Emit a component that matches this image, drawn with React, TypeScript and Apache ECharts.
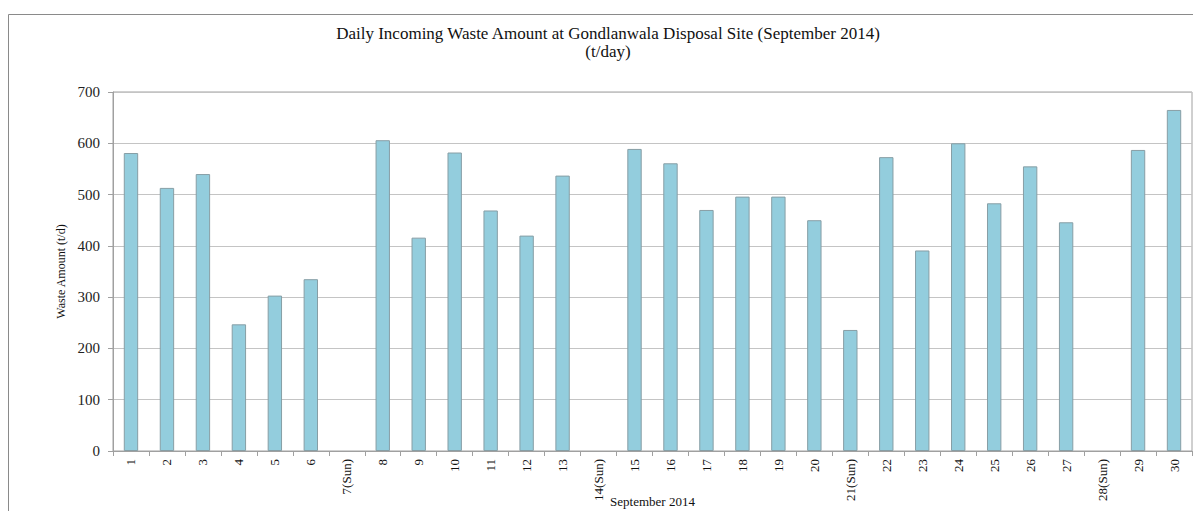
import React, { useEffect, useRef } from "react";
import * as echarts from "echarts";

const categories = [
  "1", "2", "3", "4", "5", "6", "7(Sun)", "8", "9", "10",
  "11", "12", "13", "14(Sun)", "15", "16", "17", "18", "19", "20",
  "21(Sun)", "22", "23", "24", "25", "26", "27", "28(Sun)", "29", "30",
];
// Sundays have no recorded value
const wasteAmount = [
  581, 513, 540, 247, 303, 335, null, 606, 416, 582,
  469, 420, 537, null, 589, 561, 470, 496, 496, 450,
  236, 573, 391, 600, 483, 555, 446, null, 587, 665,
];
const titleLines = ["Daily Incoming Waste Amount at Gondlanwala Disposal Site (September 2014)", "(t/day)"];
const xAxisName = "September 2014";
const yAxisName = "Waste Amount (t/d)";

const FONT = "'Liberation Serif', 'DejaVu Serif', serif";

export default function App() {
  const ref = useRef<HTMLDivElement>(null);
  useEffect(() => {
    if (!ref.current) return;
    const chart = echarts.init(ref.current, undefined, { renderer: "svg" });
    chart.setOption({
      animation: false,
      backgroundColor: "#ffffff",
      graphic: [
        {
          type: "rect",
          x: 8.5,
          y: 14.5,
          shape: { width: 1200, height: 520 },
          style: { fill: "none", stroke: "#8a8a8a", lineWidth: 1 },
          z: 0,
        },
        {
          type: "text",
          x: 608,
          y: 24,
          style: {
            text: titleLines.join("\n"),
            font: `17px ${FONT}`,
            fill: "#111",
            textAlign: "center",
            lineHeight: 18,
          },
        },
      ],
      grid: {
        left: 113,
        top: 92,
        right: 1,
        bottom: 60,
        containLabel: false,
        outerBoundsMode: "none",
        show: true,
        borderColor: "#a0a0a0",
        borderWidth: 1,
      },
      xAxis: {
        type: "category",
        data: categories,
        name: xAxisName,
        nameLocation: "middle",
        nameGap: 44,
        nameMoveOverlap: false,
        nameTextStyle: { fontFamily: FONT, fontSize: 13, color: "#111" },
        axisLine: { lineStyle: { color: "#a0a0a0" } },
        axisTick: { show: true, length: 5, lineStyle: { color: "#a0a0a0" } },
        axisLabel: { rotate: 90, fontFamily: FONT, fontSize: 13, color: "#111", margin: 8, interval: 0 },
        splitLine: { show: false },
      },
      yAxis: {
        type: "value",
        min: 0,
        max: 700,
        interval: 100,
        name: yAxisName,
        nameLocation: "middle",
        nameGap: 46,
        nameMoveOverlap: false,
        nameTextStyle: { fontFamily: FONT, fontSize: 12, color: "#111" },
        axisLine: { show: true, lineStyle: { color: "#a0a0a0" } },
        axisTick: { show: true, length: 5, lineStyle: { color: "#a0a0a0" } },
        axisLabel: { fontFamily: FONT, fontSize: 15, color: "#222", margin: 13 },
        splitLine: { show: true, lineStyle: { color: "#c4c4c4", width: 1 } },
      },
      series: [
        {
          type: "bar",
          data: wasteAmount,
          barWidth: "40%",
          itemStyle: { color: "#93CDDD", borderColor: "#879ea5", borderWidth: 1 },
        },
      ],
    });
    return () => chart.dispose();
  }, []);
  return <div ref={ref} style={{ position: "fixed", left: 0, top: 0, width: 1193, height: 511 }} />;
}
